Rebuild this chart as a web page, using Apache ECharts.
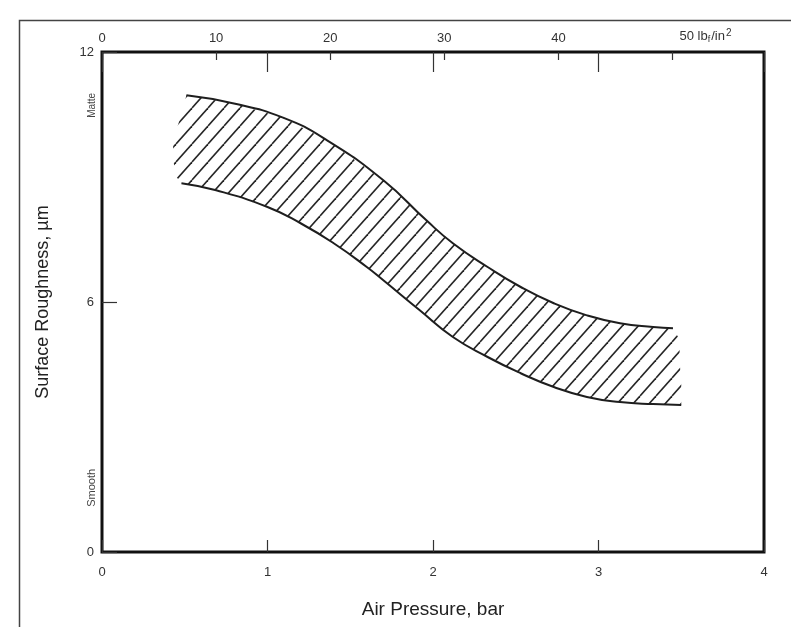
<!DOCTYPE html>
<html>
<head>
<meta charset="utf-8">
<script src="https://cdn.jsdelivr.net/npm/echarts@6/dist/echarts.min.js"></script>
<style>
  html, body { margin: 0; background: #fff; }
  #main { width: 791px; height: 627px; }
</style>
</head>
<body>
<div id="main"></div>
<script>
// band edges (x = air pressure in bar, y = roughness in um)
var upperX = [0.51, 0.79, 1.09, 1.36, 1.70, 1.96, 2.12, 2.33, 2.53, 2.73, 2.93, 3.13, 3.33, 3.45];
var upperY = [10.96, 10.77, 10.43, 9.88, 8.92, 7.96, 7.41, 6.84, 6.36, 5.97, 5.68, 5.49, 5.40, 5.37];
var lowerX = [0.48, 0.69, 1.00, 1.20, 1.40, 1.60, 1.70, 1.92, 2.12, 2.33, 2.53, 2.73, 2.93, 3.13, 3.33, 3.50];
var lowerY = [8.85, 8.68, 8.28, 7.89, 7.41, 6.84, 6.52, 5.80, 5.16, 4.68, 4.29, 3.96, 3.72, 3.60, 3.55, 3.53];
// open ends of the hatching (no outline drawn there)
var leftEndX = [0.45, 0.43, 0.43, 0.48];   // bottom -> top
var leftEndY = [9.0, 9.4, 9.9, 10.5];
var rightEndX = [3.49, 3.49, 3.50];        // top -> bottom
var rightEndY = [5.1, 4.6, 4.0];

var barTicks = [0, 1, 2, 3, 4];
var psiTicks = [0, 10, 20, 30, 40, 50];
var roughTicks = [0, 6, 12];
var PSI_PER_BAR = 14.5038;

function zip(xs, ys) {
  return xs.map(function (x, i) { return [x, ys[i]]; });
}

// diagonal hatch tile
function hatchTile() {
  var w = 16, h = 18;
  var c = document.createElement('canvas');
  c.width = w; c.height = h;
  var ctx = c.getContext('2d');
  ctx.strokeStyle = '#262626';
  ctx.lineWidth = 1.6;
  [-w, 0, w].forEach(function (o) {
    ctx.beginPath();
    ctx.moveTo(o, h);
    ctx.lineTo(o + w, 0);
    ctx.stroke();
  });
  return c;
}

var outline = []
  .concat(zip(upperX, upperY))
  .concat(zip(rightEndX, rightEndY))
  .concat(zip(lowerX, lowerY).reverse())
  .concat(zip(leftEndX, leftEndY));

var chart = echarts.init(document.getElementById('main'));
var tile = hatchTile();
var font = 'Liberation Sans';

var option = {
  animation: false,
  backgroundColor: '#fff',
  grid: {
    left: 102, right: 27, top: 52, bottom: 75,
    show: true, borderColor: '#111', borderWidth: 3
  },
  xAxis: [
    {
      type: 'value', position: 'bottom',
      min: barTicks[0], max: barTicks[barTicks.length - 1], interval: 1,
      name: 'Air Pressure, bar', nameLocation: 'middle', nameGap: 48,
      nameTextStyle: { fontFamily: font, fontSize: 19, color: '#222' },
      axisLine: { show: false },
      axisTick: { inside: true, length: 12, lineStyle: { color: '#333', width: 1.2 } },
      axisLabel: { margin: 14, fontFamily: font, fontSize: 13, color: '#333' },
      splitLine: { show: false }
    },
    {
      // lbf/in2 scale on top
      type: 'value', position: 'top',
      min: 0, max: barTicks[barTicks.length - 1] * PSI_PER_BAR, interval: 10,
      axisLine: { show: false },
      axisTick: { inside: true, length: 8, lineStyle: { color: '#333', width: 1.2 } },
      axisLabel: {
        margin: 7, showMaxLabel: false, fontFamily: font, fontSize: 13, color: '#333',
        formatter: function (v) {
          if (psiTicks.indexOf(v) < 0) return '';
          if (v === psiTicks[psiTicks.length - 1]) {
            return '{p|' + v + '} lb{sub|f}/in{sup|2}';
          }
          return v;
        },
        rich: {
          p: { fontFamily: font, fontSize: 13, color: '#333', padding: [0, 0, 0, 66] },
          sub: { fontFamily: font, fontSize: 9, color: '#333', padding: [6, 1, 0, 0] },
          sup: { fontFamily: font, fontSize: 10, color: '#333', padding: [0, 0, 7, 1] }
        }
      },
      splitLine: { show: false }
    },
    {
      // bar ticks repeated along the top edge
      type: 'value', position: 'top',
      min: barTicks[0], max: barTicks[barTicks.length - 1], interval: 1,
      axisLine: { show: false },
      axisTick: { inside: true, length: 20, lineStyle: { color: '#333', width: 1.2 } },
      axisLabel: { show: false },
      splitLine: { show: false }
    }
  ],
  yAxis: {
    type: 'value',
    min: roughTicks[0], max: roughTicks[roughTicks.length - 1], interval: 6,
    name: 'Surface Roughness, \u00b5m', nameLocation: 'middle', nameGap: 50,
    nameTextStyle: { fontFamily: font, fontSize: 18, color: '#222' },
    axisLine: { show: false },
    axisTick: { inside: true, length: 15, lineStyle: { color: '#333', width: 1.2 } },
    axisLabel: { margin: 8, fontFamily: font, fontSize: 13, color: '#333' },
    splitLine: { show: false }
  },
  series: [
    {
      type: 'custom',
      coordinateSystem: 'cartesian2d',
      data: [[0, 0]],
      silent: true,
      z: 1,
      renderItem: function (params, api) {
        var pts = outline.map(function (p) { return api.coord(p); });
        return {
          type: 'polygon',
          shape: { points: pts },
          style: { fill: { image: tile, repeat: 'repeat' }, stroke: null }
        };
      }
    },
    {
      type: 'line', data: zip(upperX, upperY), smooth: true, symbol: 'none', z: 3,
      lineStyle: { color: '#1e1e1e', width: 2 }
    },
    {
      type: 'line', data: zip(lowerX, lowerY), smooth: true, symbol: 'none', z: 3,
      lineStyle: { color: '#1e1e1e', width: 2 }
    }
  ]
};
chart.setOption(option);

// Matte / Smooth notes beside the y axis, and the scan frame
var matte = chart.convertToPixel({ xAxisIndex: 0, yAxisIndex: 0 }, [0, 10.72]);
var smooth = chart.convertToPixel({ xAxisIndex: 0, yAxisIndex: 0 }, [0, 1.54]);
chart.setOption({
  graphic: [
    {
      type: 'rect', left: 17, top: 18, silent: true,
      shape: { width: 900, height: 800 },
      style: { fill: null, stroke: '#444', lineWidth: 1.5 }
    },
    {
      type: 'text', x: matte[0] - 10, y: matte[1], rotation: Math.PI / 2,
      style: { text: 'Matte', font: '10px ' + font, fill: '#444', align: 'center', verticalAlign: 'middle' }
    },
    {
      type: 'text', x: smooth[0] - 10, y: smooth[1], rotation: Math.PI / 2,
      style: { text: 'Smooth', font: '11px ' + font, fill: '#444', align: 'center', verticalAlign: 'middle' }
    }
  ]
});
</script>
</body>
</html>
